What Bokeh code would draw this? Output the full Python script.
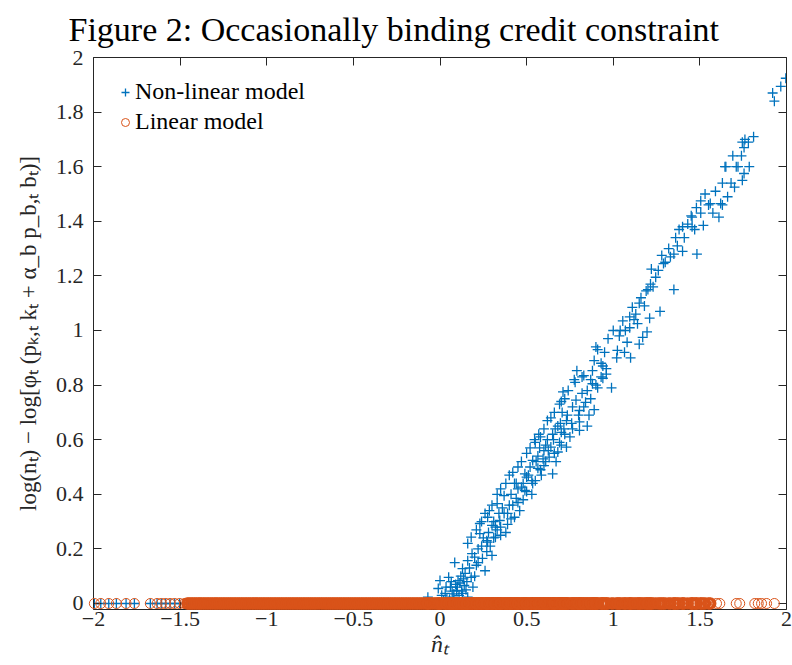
from bokeh.plotting import figure
from bokeh.models import Range1d, LinearAxis, FixedTicker, Legend, LegendItem
from bokeh.embed import file_html
from bokeh.resources import INLINE

# ---------------- data ----------------
title_text = "Figure 2: Occasionally binding credit constraint"
x_ticks = [-2, -1.5, -1, -0.5, 0, 0.5, 1, 1.5, 2]
x_tick_labels = ["\u22122", "\u22121.5", "\u22121", "\u22120.5", "0", "0.5", "1", "1.5", "2"]
y_ticks = [0, 0.2, 0.4, 0.6, 0.8, 1, 1.2, 1.4, 1.6, 1.8, 2]
y_tick_labels = ["0", "0.2", "0.4", "0.6", "0.8", "1", "1.2", "1.4", "1.6", "1.8", "2"]

# n_hat values below zero (non-linear model is at 0 there)
n_hat_neg = [
    -1.995, -1.958, -1.912, -1.868, -1.812, -1.764, -1.672, -1.633, -1.608, -1.584,
    -1.558, -1.532, -1.503, -1.474,
    -1.458, -1.449, -1.437, -1.428, -1.416, -1.407, -1.395, -1.386, -1.377, -1.365,
    -1.356, -1.344, -1.335, -1.323, -1.314, -1.302, -1.293, -1.284, -1.272, -1.263,
    -1.251, -1.242, -1.230, -1.221, -1.209, -1.200, -1.188, -1.179, -1.167, -1.158,
    -1.146, -1.137, -1.125, -1.116, -1.104, -1.095, -1.083, -1.074, -1.062, -1.053,
    -1.041, -1.032, -1.020, -1.011, -0.999, -0.990, -0.978, -0.969, -0.957, -0.948,
    -0.936, -0.927, -0.915, -0.906, -0.894, -0.885, -0.873, -0.864, -0.852, -0.843,
    -0.831, -0.822, -0.810, -0.801, -0.789, -0.780, -0.768, -0.759, -0.747, -0.738,
    -0.726, -0.717, -0.705, -0.696, -0.684, -0.675, -0.663, -0.654, -0.642, -0.633,
    -0.621, -0.612, -0.600, -0.591, -0.579, -0.570, -0.558, -0.549, -0.537, -0.528,
    -0.516, -0.507, -0.495, -0.486, -0.474, -0.465, -0.453, -0.444, -0.432, -0.423,
    -0.411, -0.402, -0.390, -0.381, -0.369, -0.360, -0.348, -0.339, -0.327, -0.318,
    -0.306, -0.297, -0.285, -0.276, -0.264, -0.255, -0.243, -0.234, -0.222, -0.213,
    -0.201, -0.192, -0.180, -0.171, -0.159, -0.150, -0.138, -0.129, -0.117, -0.108,
    -0.096, -0.087, -0.075, -0.066, -0.054, -0.045, -0.033, -0.024, -0.012, -0.003,
]
nonlinear_neg = [0.0] * len(n_hat_neg)

# n_hat values where the non-linear model leaves zero
n_hat_pos = [
    -0.07, -0.01, 0.0, 0.02, 0.03, 0.04, 0.05, 0.06, 0.07, 0.075,
    0.085, 0.09, 0.096, 0.104, 0.11, 0.12, 0.13, 0.13, 0.14, 0.145,
    0.15, 0.16, 0.16, 0.16, 0.17, 0.18, 0.18, 0.185, 0.19, 0.2,
    0.2, 0.21, 0.22, 0.22, 0.23, 0.23, 0.24, 0.245, 0.25, 0.26,
    0.27, 0.275, 0.275, 0.28, 0.285, 0.29, 0.30, 0.30, 0.31, 0.31,
    0.32, 0.33, 0.33, 0.34, 0.345, 0.35, 0.36, 0.37, 0.37, 0.38,
    0.39, 0.40, 0.41, 0.42, 0.43, 0.43, 0.44, 0.44, 0.45, 0.46,
    0.47, 0.48, 0.49, 0.49, 0.50, 0.51, 0.52, 0.53, 0.53, 0.535,
    0.01, 0.035, 0.055, 0.065, 0.08, 0.10, 0.115, 0.125, 0.135, 0.155,
    0.535, 0.546, 0.565, 0.565, 0.58, 0.585, 0.60, 0.60, 0.62, 0.63,
    0.64, 0.64, 0.65, 0.65, 0.67, 0.68, 0.68, 0.69, 0.69, 0.70,
    0.71, 0.72, 0.73, 0.73, 0.735, 0.75, 0.765, 0.765, 0.775, 0.78,
    0.785, 0.79, 0.805, 0.805, 0.805, 0.82, 0.82, 0.83, 0.84, 0.85,
    0.85, 0.86, 0.87, 0.88, 0.88, 0.89, 0.89, 0.90, 0.91, 0.91,
    0.93, 0.94, 0.94, 0.95, 0.96, 0.96, 0.97, 0.99, 1.0, 1.02,
    0.555, 0.575, 0.595, 0.61, 0.625, 0.655, 0.665, 0.695, 0.705, 0.715,
    1.024, 1.035, 1.055, 1.065, 1.08, 1.095, 1.095, 1.10, 1.11, 1.13,
    1.14, 1.15, 1.15, 1.16, 1.17, 1.19, 1.195, 1.21, 1.215, 1.22,
    1.245, 1.27, 1.28, 1.29, 1.32, 1.35, 1.35, 1.36, 1.38, 1.40,
    1.40, 1.41, 1.43, 1.45, 1.455, 1.455, 1.47, 1.48, 1.483, 1.505,
    1.505, 1.52, 1.53, 1.55, 1.56, 1.575, 1.59, 1.61, 1.62, 1.63,
    1.63, 1.645, 1.65, 1.66, 1.68, 1.69, 1.70, 1.71, 1.72, 1.74,
    1.745, 1.745, 1.755, 1.755, 1.76, 1.78, 1.785, 1.81, 1.92, 1.93,
    1.967, 1.996,
    1.04, 1.07, 1.12, 1.18, 1.20, 1.23, 1.26, 1.30, 1.33, 1.37,
    0.21, 0.24, 0.26, 0.30, 0.33, 0.35, 0.38, 0.40, 0.42, 0.45,
    0.47, 0.50, 0.52, 0.55, 0.57, 0.60, 0.62, 0.66, 0.70, 0.74,
    0.27, 0.32, 0.35, 0.39, 0.41, 0.45, 0.48, 0.50, 0.55, 0.58,
    0.61, 0.66, 0.70, 0.72, 0.76, 0.80, 0.83, 0.87, 0.90, 0.93,
]
nonlinear_pos = [
    0.023, 0.055, 0.084, 0.01, 0.037, 0.02, 0.096, 0.06, 0.045, 0.023,
    0.15, 0.07, 0.048, 0.084, 0.03, 0.10, 0.128, 0.037, 0.066, 0.11,
    0.05, 0.157, 0.023, 0.22, 0.13, 0.096, 0.243, 0.183, 0.06, 0.17,
    0.10, 0.14, 0.20, 0.15, 0.293, 0.256, 0.21, 0.165, 0.24, 0.12,
    0.19, 0.316, 0.225, 0.26, 0.34, 0.21, 0.286, 0.176, 0.30, 0.24,
    0.243, 0.366, 0.27, 0.33, 0.304, 0.28, 0.35, 0.395, 0.33, 0.26,
    0.33, 0.36, 0.40, 0.36, 0.44, 0.316, 0.385, 0.44, 0.42, 0.34,
    0.426, 0.44, 0.475, 0.414, 0.463, 0.47, 0.50, 0.45, 0.40, 0.524,
    0.03, 0.06, 0.015, 0.08, 0.035, 0.06, 0.075, 0.045, 0.09, 0.08,
    0.44, 0.60, 0.54, 0.495, 0.61, 0.47, 0.56, 0.505, 0.60, 0.536,
    0.68, 0.573, 0.62, 0.475, 0.52, 0.65, 0.555, 0.73, 0.59, 0.627,
    0.775, 0.75, 0.67, 0.573, 0.69, 0.61, 0.72, 0.64, 0.82, 0.81,
    0.745, 0.853, 0.707, 0.665, 0.634, 0.83, 0.77, 0.835, 0.737, 0.78,
    0.65, 0.69, 0.82, 0.853, 0.805, 0.89, 0.71, 0.94, 0.79, 0.93,
    0.88, 0.87, 0.825, 0.92, 0.84, 0.86, 0.97, 0.79, 1.0, 0.90,
    0.52, 0.57, 0.53, 0.58, 0.56, 0.60, 0.64, 0.66, 0.70, 0.64,
    0.927, 0.98, 1.035, 0.92, 0.957, 1.05, 1.01, 0.90, 1.085, 1.06,
    1.025, 1.10, 0.95, 1.12, 0.975, 1.145, 0.995, 1.045, 1.17, 1.225,
    1.195, 1.07, 1.275, 1.245, 1.30, 1.28, 1.15, 1.34, 1.37, 1.29,
    1.38, 1.34, 1.39, 1.42, 1.38, 1.415, 1.37, 1.45, 1.28, 1.475,
    1.43, 1.385, 1.50, 1.46, 1.465, 1.43, 1.51, 1.415, 1.465, 1.46,
    1.54, 1.60, 1.60, 1.49, 1.54, 1.64, 1.525, 1.60, 1.60, 1.64,
    1.55, 1.69, 1.575, 1.67, 1.70, 1.69, 1.60, 1.71, 1.87, 1.84,
    1.894, 1.924,
    1.0, 1.0, 1.04, 1.09, 1.15, 1.16, 1.22, 1.25, 1.27, 1.31,
    0.27, 0.30, 0.33, 0.36, 0.40, 0.42, 0.44, 0.47, 0.48, 0.50,
    0.52, 0.55, 0.57, 0.59, 0.62, 0.64, 0.67, 0.70, 0.74, 0.78,
    0.23, 0.28, 0.25, 0.29, 0.31, 0.37, 0.38, 0.41, 0.45, 0.49,
    0.52, 0.55, 0.58, 0.62, 0.66, 0.69, 0.72, 0.75, 0.80, 0.83,
]

# linear-model circles beyond the dense band on the right
n_hat_linear_right = [1.596, 1.615, 1.71, 1.73, 1.817, 1.837, 1.856, 1.885, 1.93]

nonlinear_x = n_hat_neg + n_hat_pos
nonlinear_y = nonlinear_neg + nonlinear_pos
linear_x = n_hat_neg + [v for v in n_hat_pos if v <= 1.56] + n_hat_linear_right

# dense band (where the circles overlap into a solid strip) vs isolated circles
band_x = [v for v in linear_x if -1.47 <= v <= 1.56]
band_y = [0.0] * len(band_x)
sparse_x = [v for v in linear_x if v < -1.47 or v > 1.56]
sparse_y = [0.0] * len(sparse_x)

# ---------------- styling ----------------
BLUE = "#0072BD"
ORANGE = "#D95319"
AX = "#262626"
SERIF = "Liberation Serif"

p = figure(width=792, height=665,
           x_range=Range1d(-2, 2), y_range=Range1d(-0.022, 2),
           output_backend="svg", toolbar_location=None,
           min_border_left=93, min_border_right=6, min_border_top=57, min_border_bottom=56)

p.title.text = title_text
p.title.text_font = SERIF
p.title.text_font_size = "34px"
p.title.text_font_style = "normal"
p.title.text_color = "black"
p.title.align = "left"
p.title.offset = -25
p.title.standoff = 16
p.title.vertical_align = "top"

p.grid.visible = False
p.outline_line_color = None
p.background_fill_color = "white"
p.border_fill_color = "white"

cr = p.scatter(nonlinear_x, nonlinear_y, marker="cross", size=10, line_width=1.3, color=BLUE)
lr = p.scatter(sparse_x, sparse_y, marker="circle", size=10, line_width=1,
               line_color=ORANGE, fill_color=None)
br = p.scatter(band_x, band_y, marker="circle", size=10, line_width=2.4,
               line_color=ORANGE, fill_color=None)
lr.level = "overlay"
br.level = "overlay"


def style_axis(ax, ticks, labels, show_labels=True):
    ax.ticker = FixedTicker(ticks=ticks)
    ax.axis_line_color = AX
    ax.axis_line_width = 1
    ax.major_tick_line_color = AX
    ax.major_tick_in = 8
    ax.major_tick_out = 0
    ax.minor_tick_line_color = None
    if show_labels:
        ax.major_label_overrides = dict(zip(ticks, labels))
        ax.major_label_text_font = SERIF
        ax.major_label_text_font_size = "22px"
        ax.major_label_text_color = AX
    else:
        ax.major_label_overrides = {t: "" for t in ticks}
        ax.major_label_text_font_size = "0px"
        ax.major_label_standoff = 0


xb = p.xaxis[0]
style_axis(xb, x_ticks, x_tick_labels)
xb.major_label_standoff = 2
xb.axis_label = "n\u0302\u209c"
xb.axis_label_text_font = SERIF
xb.axis_label_text_font_style = "italic"
xb.axis_label_text_font_size = "24px"
xb.axis_label_text_color = AX
xb.axis_label_standoff = 2

yl = p.yaxis[0]
style_axis(yl, y_ticks, y_tick_labels)
yl.major_label_standoff = 10
yl.axis_label = "log(n\u209c) \u2212 log[\u03c6\u209c (p\u2096,\u209c k\u209c + \u03b1_b p_b,\u209c b\u209c)]"
yl.axis_label_text_font = SERIF
yl.axis_label_text_font_style = "normal"
yl.axis_label_text_font_size = "23px"
yl.axis_label_text_color = AX
yl.axis_label_standoff = 12

top = LinearAxis()
style_axis(top, x_ticks, x_tick_labels, show_labels=False)
p.add_layout(top, "above")
right = LinearAxis()
style_axis(right, y_ticks, y_tick_labels, show_labels=False)
p.add_layout(right, "right")

legend = Legend(items=[LegendItem(label="Non-linear model", renderers=[cr]),
                       LegendItem(label="Linear model", renderers=[lr])],
                location=(22, 474))
legend.border_line_color = None
legend.background_fill_alpha = 0
legend.label_text_font = SERIF
legend.label_text_font_size = "24px"
legend.label_text_color = "black"
legend.glyph_width = 20
legend.glyph_height = 20
legend.label_height = 20
legend.label_standoff = 0
legend.spacing = 3
legend.padding = 0
legend.margin = 0
p.add_layout(legend)

open("out.html", "w").write(file_html(p, INLINE))
